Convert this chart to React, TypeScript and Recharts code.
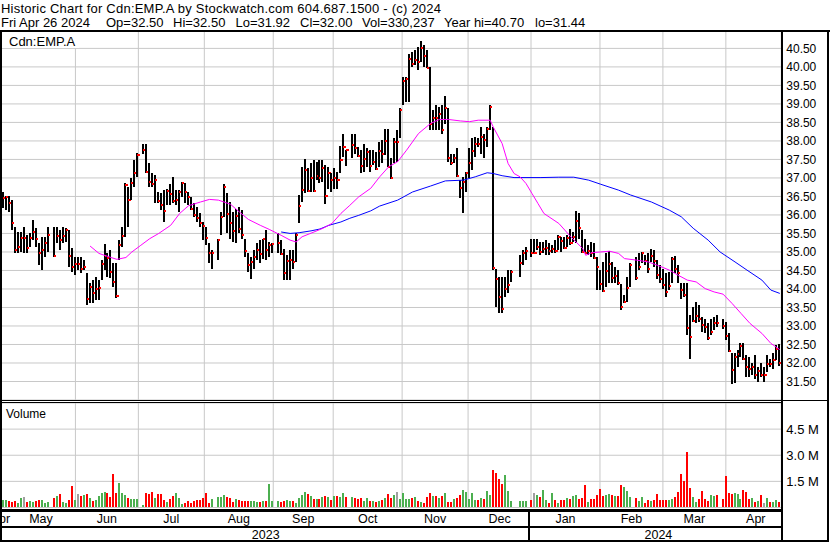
import React from 'react';
import { ComposedChart, Bar, Line, XAxis, YAxis, CartesianGrid, Cell } from 'recharts';

const FONT = '"Liberation Sans", Arial, Helvetica, sans-serif';

// weekday grid from Apr 27 2023 to Apr 26 2024, market holidays left empty
const TOTAL_SLOTS = 262;
const HOLIDAY_SLOTS = [18, 48, 73, 93, 118, 173, 174, 178, 213, 242];

// daily bars, in trading order
const HIGH = [
  36.67, 36.62, 36.5, 36.52, 36.4, 35.67, 35.54, 35.54, 35.67, 35.46, 35.51, 35.86, 35.65, 35.24, 35.4, 35.4, 35.67,
  35.67, 35.67, 35.59, 35.67, 35.65, 35.59, 35.1, 34.86, 34.86, 34.86, 34.78, 34.43, 34.16, 34.24, 34.32, 34.24, 34.78,
  35.21, 34.97, 35.05, 34.7, 34.7, 35.32, 35.67, 36.86, 36.75, 37.0, 37.48, 37.68,
  37.91, 37.93, 37.39, 37.12, 37.08, 36.63, 36.6, 36.67, 36.71, 36.83, 37.03, 36.67, 36.67, 36.89, 36.85, 36.62, 36.49,
  36.31, 36.22, 36.04, 35.81, 35.68, 35.23, 35.05,
  35.36, 36.08, 36.83, 36.58, 36.35, 36.08, 36.17, 36.22, 36.13, 35.36, 34.96, 34.87, 35.05, 35.23, 35.32, 35.36, 35.59,
  35.27, 35.23,
  35.5, 35.32, 35.09, 34.91, 35.05, 35.05, 35.52, 36.55, 37.3, 37.52, 37.26, 37.39, 37.48, 37.44, 37.48, 37.48, 37.35,
  37.3, 37.12, 37.26, 37.17, 37.86, 38.2, 37.75,
  38.18, 38.2, 37.84, 37.75, 37.93, 37.8, 37.75, 37.75, 37.71, 37.98, 38.02, 38.31, 38.31, 37.53, 38.09, 38.29, 38.88,
  39.73, 39.73, 40.36, 40.41, 40.45, 40.54, 40.7, 40.59, 40.45, 40.0, 38.83, 38.97, 38.92, 38.97, 39.22, 38.88, 37.66,
  37.66, 37.8, 36.94, 37.03, 37.17, 37.8, 38.07, 38.11, 38.07, 38.38, 38.2, 38.38, 38.97, 38.38, 34.55, 34.33, 34.33,
  34.33, 34.51, 34.51,
  34.91, 35.05, 35.14,
  35.35, 35.35, 35.34, 35.27, 35.27, 35.32, 35.23, 35.18, 35.32, 35.45, 35.41, 35.41, 35.45, 35.63, 35.54, 36.11, 36.06,
  35.59, 35.36, 35.18, 35.27, 35.23, 34.87, 34.51, 34.73, 34.96, 35.03, 34.73, 34.6, 34.51, 34.13, 33.83, 34.33, 34.69,
  34.87, 34.96, 35.0, 34.91, 34.96, 35.09, 35.05, 34.78, 34.64, 34.55, 34.42, 34.46, 34.87, 34.89, 34.64, 34.15, 34.15,
  34.15, 33.29, 33.52, 33.65, 33.56, 33.25, 33.2, 33.07, 33.2, 33.25, 33.29,
  33.2, 33.11, 32.8, 32.26, 32.26, 32.35, 32.53, 32.53, 32.21, 32.17, 31.99, 32.21, 31.9, 31.99, 31.9, 32.21, 32.12,
  32.26, 32.48, 32.5,
];

const LOW = [
  36.13, 36.2, 36.13, 36.08, 35.59, 34.97, 34.97, 35.0, 34.97, 34.97, 35.13, 35.32, 35.13, 34.64, 34.51, 34.86, 35.0,
  34.86, 35.24, 35.05, 35.24, 35.27, 34.59, 34.45, 34.37, 34.51, 34.43, 34.51, 33.56, 33.62, 33.62, 33.7, 33.7, 34.24,
  34.51, 34.32, 34.29, 34.05, 33.75, 34.78, 35.13, 35.4, 35.67, 36.4, 36.75, 37.03,
  37.66, 37.12, 36.76, 36.76, 36.31, 36.31, 36.13, 35.81, 36.27, 36.27, 36.31, 36.27, 36.09, 36.49, 36.31, 36.27, 36.13,
  35.95, 35.81, 35.68, 35.32, 35.18, 34.69, 34.55,
  34.78, 35.45, 35.95, 35.5, 35.36, 35.27, 35.23, 35.5, 35.36, 34.87, 34.46, 34.28, 34.55, 34.78, 34.69, 34.82, 34.78,
  34.87, 34.96,
  34.96, 34.91, 34.24, 34.24, 34.24, 34.55, 34.73, 35.79, 36.35, 36.58, 36.62, 36.62, 36.62, 36.94, 36.85, 36.89, 36.29,
  36.71, 36.62, 36.71, 36.71, 37.12, 37.57, 37.32,
  37.53, 37.66, 37.57, 37.12, 37.17, 37.3, 37.17, 37.35, 37.21, 37.3, 37.41, 37.62, 37.3, 36.98, 37.39, 37.44, 38.07,
  38.97, 39.06, 39.06, 40.0, 40.05, 39.91, 40.14, 40.0, 39.96, 38.29, 38.29, 38.29, 38.29, 38.2, 38.47, 37.44, 37.35,
  37.39, 37.03, 36.45, 36.04, 36.63, 36.99, 37.21, 37.57, 37.84, 37.66, 37.53, 37.84, 38.29, 34.51, 33.52, 33.34, 33.34,
  33.79, 33.88, 34.19,
  34.33, 34.64, 34.78,
  34.87, 34.96, 35.05, 34.91, 34.96, 34.91, 34.91, 34.96, 34.96, 35.05, 35.0, 35.09, 35.14, 35.18, 35.27, 35.23, 35.36,
  34.98, 34.96, 34.91, 34.87, 34.82, 33.97, 33.97, 33.92, 34.06, 34.15, 34.15, 34.15, 34.1, 33.43, 33.61, 33.65, 34.06,
  34.24, 34.51, 34.69, 34.64, 34.42, 34.73, 34.6, 34.28, 34.15, 34.0, 33.79, 33.97, 34.15, 34.42, 34.15, 33.74, 33.79,
  32.75, 32.12, 33.11, 33.07, 33.11, 32.84, 32.8, 32.62, 32.75, 32.89, 32.98,
  32.93, 32.62, 32.3, 31.44, 31.45, 31.9, 32.17, 32.08, 31.63, 31.63, 31.67, 31.58, 31.49, 31.63, 31.49, 31.76, 31.9,
  31.85, 32.08, 31.92,
];

const CLOSE = [
  36.4, 36.45, 36.48, 36.32, 35.78, 35.05, 35.13, 35.37, 35.37, 35.1, 35.37, 35.54, 35.35, 34.97, 35.05, 35.24, 35.46,
  34.88, 35.43, 35.32, 35.43, 35.59, 34.89, 34.59, 34.67, 34.67, 34.54, 34.59, 33.72, 34.05, 33.89, 34.0, 34.03, 34.67,
  34.89, 34.83, 34.45, 34.2, 33.81, 35.19, 35.43, 36.81, 36.4, 36.86, 37.13, 37.62,
  37.76, 37.17, 36.89, 36.83, 36.94, 36.38, 36.27, 36.11, 36.65, 36.56, 36.38, 36.4, 36.62, 36.85, 36.62, 36.49, 36.17,
  36.0, 35.92, 35.79, 35.71, 35.37, 34.96, 34.98,
  35.32, 35.95, 36.76, 36.02, 35.79, 35.57, 35.97, 35.63, 35.47, 35.02, 34.64, 34.73, 34.87, 35.05, 34.95, 35.34, 35.05,
  35.18, 35.21,
  35.24, 34.95, 34.44, 34.76, 34.78, 34.73, 35.45, 36.25, 36.67, 37.21, 36.64, 36.99, 36.64, 37.05, 36.99, 37.27, 36.51,
  37.14, 36.94, 37.01, 36.94, 37.48, 37.83, 37.75,
  37.89, 37.82, 37.59, 37.32, 37.5, 37.71, 37.32, 37.43, 37.25, 37.72, 37.64, 38.0, 37.3, 37.0, 37.98, 37.98, 38.83,
  39.63, 39.66, 40.21, 40.07, 40.18, 40.14, 40.5, 40.3, 39.98, 38.45, 38.62, 38.61, 38.74, 38.29, 38.9, 37.53, 37.41,
  37.55, 37.05, 36.72, 36.9, 37.14, 37.39, 37.73, 37.93, 37.91, 38.11, 38.02, 38.31, 38.92, 34.57, 34.26, 33.79, 33.47,
  33.99, 34.1, 34.46,
  34.7, 34.98, 35.03,
  34.98, 34.98, 35.14, 35.0, 35.07, 35.12, 35.02, 35.07, 35.03, 35.41, 35.3, 35.11, 35.38, 35.23, 35.41, 35.84, 35.65,
  35.0, 34.98, 35.03, 34.98, 34.84, 34.6, 34.13, 33.95, 34.49, 34.67, 34.29, 34.35, 34.17, 33.52, 33.64, 34.03, 34.66,
  34.29, 34.6, 34.96, 34.76, 34.54, 34.89, 34.75, 34.38, 34.26, 34.1, 33.92, 34.08, 34.8, 34.53, 34.42, 33.97, 33.83,
  32.95, 32.69, 33.13, 33.27, 33.2, 33.02, 32.96, 32.68, 32.84, 33.09, 33.07,
  33.0, 32.73, 32.32, 31.81, 32.17, 32.24, 32.46, 32.12, 31.9, 31.85, 31.9, 31.67, 31.78, 31.67, 31.67, 31.97, 31.96,
  32.08, 32.39, 32.0,
];

// daily volume, thousands of shares
const VOLUME_K = [
  513, 418, 456, 399, 323, 361, 266, 551, 608, 323, 380, 342, 399, 456, 437, 285, 342,
  570, 646, 779, 323, 266, 456, 1216, 456, 798, 665, 703, 779, 551, 380, 456, 665, 855, 912, 817, 627, 1938, 855, 1406,
  836, 703, 570, 513, 513, 513,
  171, 855, 779, 912, 570, 760, 760, 418, 304, 475, 646, 836, 570, 228, 285, 399, 247, 399, 418, 418, 570, 836, 247, 494,
  627, 627, 703, 627, 532, 323, 475, 456, 361, 399, 399, 399, 399, 323, 304, 361, 399, 1368, 380,
  380, 342, 380, 418, 361, 361, 247, 570, 703, 893, 779, 646, 475, 513, 513, 627, 665, 627, 456, 646, 665, 589, 836, 627,
  608, 570, 513, 532, 380, 570, 399, 399, 342, 399, 437, 532, 798, 551, 703, 912, 513, 836, 494, 494, 551, 589, 399,
  323, 247, 608, 855, 646, 646, 570, 665, 855, 323, 304, 475, 551, 741, 1026, 893, 475, 817, 456, 418, 532, 513, 931,
  703, 2128, 1995, 1615, 1368, 1843, 931, 380,
  380, 399, 399,
  456, 855, 703, 589, 1007, 456, 247, 855, 418, 266, 456, 456, 570, 513, 646, 722, 475, 570, 1273, 323, 513, 513, 703,
  1083, 665, 722, 779, 722, 665, 665, 1273, 1159, 931, 608,
  570, 380, 589, 285, 437, 380, 418, 798, 418, 456, 456, 456, 494, 589, 893, 1938, 1500, 3200, 1140, 608, 323, 513, 950,
  513, 380, 703, 646, 703,
  513, 1805, 836, 798, 836, 760, 513, 1026, 893, 513, 570, 342, 380, 703, 266, 570, 323, 342, 418, 330,
];

// moving averages: [slot, value]
const MA_FAST: [number, number][] = [
  [31, 35.16], [34, 34.96], [38, 34.85], [40, 34.8], [43, 34.85], [45, 35.0], [48, 35.18], [51, 35.36], [54, 35.5],
  [58, 35.72], [61, 36.04], [64, 36.25], [68, 36.35], [71, 36.42], [74, 36.4], [78, 36.29], [81, 36.08], [84, 35.88],
  [88, 35.72], [91, 35.61], [95, 35.45], [98, 35.32], [100, 35.27], [102, 35.41], [106, 35.54], [109, 35.64],
  [112, 35.77], [115, 36.04], [118, 36.26], [121, 36.49], [125, 36.72], [128, 37.03], [131, 37.3], [134, 37.44],
  [137, 37.75], [141, 38.2], [145, 38.47], [148, 38.58], [151, 38.58], [155, 38.54], [158, 38.52], [161, 38.56],
  [165, 38.56], [166, 38.38], [169, 37.93], [171, 37.39], [173, 37.12], [175, 37.03], [177, 36.85], [179, 36.58],
  [181, 36.31], [183, 36.04], [188, 35.77], [192, 35.41], [196, 35.09], [197, 34.91], [199, 34.98], [202, 35.0],
  [205, 35.02], [208, 34.96], [210, 34.82], [214, 34.78], [218, 34.73], [221, 34.64], [225, 34.51], [228, 34.37],
  [231, 34.24], [234, 34.19], [237, 34.01], [240, 33.92], [243, 33.86], [246, 33.61], [249, 33.34], [252, 33.07],
  [256, 32.8], [259, 32.53], [262, 32.36],
];

const MA_SLOW: [number, number][] = [
  [95, 35.54], [98, 35.5], [101, 35.52], [105, 35.57], [108, 35.62], [111, 35.72], [115, 35.81], [118, 35.91],
  [121, 35.99], [125, 36.11], [128, 36.24], [134, 36.4], [139, 36.62], [145, 36.78], [150, 36.92], [156, 36.94],
  [160, 37.03], [164, 37.14], [166, 37.12], [169, 37.06], [173, 37.01], [177, 37.01], [182, 37.01], [188, 37.02],
  [193, 37.02], [198, 36.94], [202, 36.83], [208, 36.67], [212, 36.54], [219, 36.35], [225, 36.13], [229, 35.95],
  [233, 35.64], [238, 35.32], [242, 35.0], [247, 34.73], [251, 34.51], [256, 34.24], [259, 33.97], [262, 33.88],
];

const PRICE_TICKS = [31.5, 32, 32.5, 33, 33.5, 34, 34.5, 35, 35.5, 36, 36.5, 37, 37.5, 38, 38.5, 39, 39.5, 40, 40.5];
const VOLUME_TICKS = [1500, 3000, 4500];

// month boundaries in slot units (first one is the partly hidden April 2023)
const MONTH_BOUNDS = [-1.5, 2.5, 25.5, 46.5, 68.5, 91.5, 111.5, 134.5, 156.5, 177.5, 200.5, 221.5, 242.5, 262.5];
const MONTH_NAMES = ['Apr', 'May', 'Jun', 'Jul', 'Aug', 'Sep', 'Oct', 'Nov', 'Dec', 'Jan', 'Feb', 'Mar', 'Apr'];
const YEAR_BOUNDS = [0.5, 177.5, 262.5];
const YEAR_NAMES = ['2023', '2024'];

const GRID_TICKS = MONTH_BOUNDS.slice(2, -1);
const MONTH_TICKS = MONTH_NAMES.map((_, i) => (MONTH_BOUNDS[i] + MONTH_BOUNDS[i + 1]) / 2);
const YEAR_TICKS = YEAR_NAMES.map((_, i) => (YEAR_BOUNDS[i] + YEAR_BOUNDS[i + 1]) / 2);

// header quote line, split into its fields
const QUOTE_FIELDS = [
  'Fri Apr 26 2024',
  'Op=32.50',
  'Hi=32.50',
  'Lo=31.92',
  'Cl=32.00',
  'Vol=330,237',
  'Year hi=40.70',
  'lo=31.44',
];
const QUOTE_X = [1, 106, 173, 235.5, 300, 362, 444, 535];

type Row = {
  slot: number;
  range: [number, number] | null;
  high: number | null;
  low: number | null;
  close: number | null;
  volume: number | null;
  dir: number;
  fast: number | null;
  slow: number | null;
};

const fastBySlot = new Map(MA_FAST);
const slowBySlot = new Map(MA_SLOW);

const rows: Row[] = [];
let day = 0;
for (let slot = 1; slot <= TOTAL_SLOTS; slot++) {
  const row: Row = {
    slot,
    range: null,
    high: null,
    low: null,
    close: null,
    volume: null,
    dir: 0,
    fast: fastBySlot.get(slot) ?? null,
    slow: slowBySlot.get(slot) ?? null,
  };
  if (!HOLIDAY_SLOTS.includes(slot)) {
    row.high = HIGH[day];
    row.low = LOW[day];
    row.close = CLOSE[day];
    row.range = [LOW[day], HIGH[day]];
    row.volume = VOLUME_K[day];
    row.dir = day === 0 ? 0 : Math.sign(CLOSE[day] - CLOSE[day - 1]);
    day++;
  }
  rows.push(row);
}

const volColor = (dir: number) => (dir > 0 ? '#4caf50' : dir < 0 ? '#ff0000' : '#a0a0a0');

function PriceMark(props: any) {
  const { x, y, width, height, payload } = props;
  if (!payload || payload.high == null) return null;
  const top = Math.min(y, y + height);
  const span = Math.abs(height);
  const cx = x + width / 2;
  const frac = payload.high === payload.low ? 0 : (payload.high - payload.close) / (payload.high - payload.low);
  const cy = top + frac * span;
  return (
    <g shapeRendering="crispEdges">
      <rect x={cx - 1} y={top} width={2} height={Math.max(span, 1)} fill="#000" />
      <rect x={cx} y={cy - 1} width={2.2} height={2} fill="#ff0000" />
    </g>
  );
}

function MonthTick(props: any) {
  const { x, y, payload } = props;
  const i = MONTH_TICKS.indexOf(payload.value);
  return (
    <text x={x} y={y + 16} textAnchor="middle" fontSize={12.5} fontFamily={FONT} fill="#000">
      {MONTH_NAMES[i]}
    </text>
  );
}

function YearTick(props: any) {
  const { x, y, payload } = props;
  const i = YEAR_TICKS.indexOf(payload.value);
  return (
    <text x={x} y={y + 12} textAnchor="middle" fontSize={12.5} fontFamily={FONT} fill="#000">
      {YEAR_NAMES[i]}
    </text>
  );
}

const PLOT_W = 782.3;
const AXIS_W = 46;
const zero = { top: 0, right: 0, bottom: 0, left: 0 };

export default function App() {
  return (
    <div
      style={{
        position: 'fixed',
        left: 0,
        top: 0,
        width: 830,
        height: 543,
        overflow: 'hidden',
        background: '#fff',
        fontFamily: FONT,
      }}
    >
      <div style={{ position: 'absolute', left: -0.7, top: 31 }}>
        <ComposedChart width={PLOT_W + AXIS_W} height={369} data={rows} margin={zero}>
          <CartesianGrid xAxisId="t" stroke="#c8c8c8" />
          <XAxis dataKey="slot" type="category" height={0} hide />
          <XAxis
            xAxisId="t"
            type="number"
            domain={[0.5, 262.5]}
            ticks={GRID_TICKS}
            allowDataOverflow
            height={0}
            hide
          />
          <YAxis
            orientation="right"
            width={AXIS_W}
            domain={[31, 40.97]}
            ticks={PRICE_TICKS}
            allowDataOverflow
            interval={0}
            tickFormatter={(v: number) => v.toFixed(2)}
            tick={{ fontSize: 12, fill: '#000', fontFamily: FONT }}
            tickLine={false}
            axisLine={false}
            tickSize={0}
            tickMargin={5}
          />
          <Bar dataKey="range" barSize={2} shape={(p: any) => <PriceMark {...p} />} isAnimationActive={false} />
          <Line
            dataKey="slow"
            stroke="#0000ff"
            strokeWidth={1}
            dot={false}
            connectNulls
            isAnimationActive={false}
          />
          <Line
            dataKey="fast"
            stroke="#ff00ff"
            strokeWidth={1}
            dot={false}
            connectNulls
            isAnimationActive={false}
          />
        </ComposedChart>
      </div>

      <div style={{ position: 'absolute', left: -0.7, top: 402.5 }}>
        <ComposedChart width={PLOT_W + AXIS_W} height={138.5} data={rows} margin={zero}>
          <CartesianGrid xAxisId="t" stroke="#c8c8c8" />
          <XAxis dataKey="slot" type="category" height={0} hide />
          <XAxis
            xAxisId="t"
            type="number"
            domain={[0.5, 262.5]}
            ticks={GRID_TICKS}
            allowDataOverflow
            height={0}
            hide
          />
          <XAxis
            xAxisId="m"
            type="number"
            domain={[0.5, 262.5]}
            ticks={MONTH_TICKS}
            allowDataOverflow
            interval={0}
            height={20}
            tick={<MonthTick />}
            tickLine={false}
            axisLine={false}
            tickSize={0}
            tickMargin={0}
          />
          <XAxis
            xAxisId="y"
            type="number"
            domain={[0.5, 262.5]}
            ticks={YEAR_TICKS}
            allowDataOverflow
            interval={0}
            height={14}
            tick={<YearTick />}
            tickLine={false}
            axisLine={false}
            tickSize={0}
            tickMargin={0}
          />
          <YAxis
            orientation="right"
            width={AXIS_W}
            domain={[0, 6000]}
            ticks={VOLUME_TICKS}
            allowDataOverflow
            interval={0}
            tickFormatter={(v: number) => `${(v / 1000).toFixed(1)} M`}
            tick={{ fontSize: 13, fill: '#000', fontFamily: FONT }}
            tickLine={false}
            axisLine={false}
            tickSize={0}
            tickMargin={5}
          />
          <Bar dataKey="volume" barSize={2} isAnimationActive={false}>
            {rows.map((r) => (
              <Cell key={r.slot} fill={volColor(r.dir)} shapeRendering="crispEdges" />
            ))}
          </Bar>
        </ComposedChart>
      </div>

      <svg
        width={830}
        height={543}
        style={{ position: 'absolute', left: 0, top: 0, pointerEvents: 'none' }}
        shapeRendering="crispEdges"
      >
        <text
          x={1}
          y={12.5}
          fontSize={13}
          fontFamily={FONT}
          fill="#000"
          textLength={440}
          lengthAdjust="spacing"
        >
          Historic Chart for Cdn:EMP.A by Stockwatch.com 604.687.1500 - (c) 2024
        </text>
        <text y={27} fontSize={13} fontFamily={FONT} fill="#000">
          {QUOTE_FIELDS.map((f, i) => (
            <tspan key={f} x={QUOTE_X[i]}>
              {f}
            </tspan>
          ))}
        </text>

        <rect x={0} y={29.5} width={830} height={2} fill="#000" />
        <rect x={0} y={30} width={1.5} height={512} fill="#000" />
        <rect x={781} y={30} width={2} height={512} fill="#000" />
        <rect x={827} y={30} width={2} height={512} fill="#000" />
        <rect x={0} y={399.5} width={829} height={1.2} fill="#000" />
        <rect x={0} y={402} width={782} height={1} fill="#000" />
        <rect x={0} y={509} width={782} height={2.5} fill="#000" />
        <rect x={0} y={526} width={782} height={2} fill="#000" />
        <rect x={0} y={540} width={829} height={2} fill="#000" />
        <rect x={528} y={509} width={1.5} height={32} fill="#000" />

        <rect x={1.5} y={31.5} width={77} height={16} fill="#fff" />
        <text x={9} y={45.5} fontSize={13} fontFamily={FONT} fill="#000">
          Cdn:EMP.A
        </text>
        <text x={6} y={418} fontSize={12} fontFamily={FONT} fill="#000">
          Volume
        </text>
      </svg>
    </div>
  );
}
